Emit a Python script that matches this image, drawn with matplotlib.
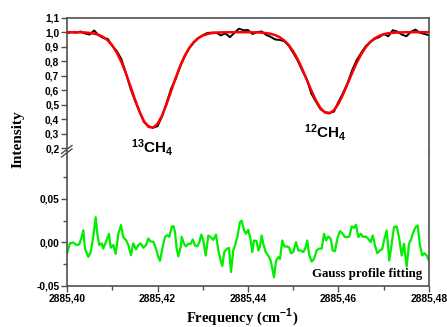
import matplotlib
matplotlib.use('Agg')
import matplotlib.pyplot as plt
import numpy as np

# ---------------- data ----------------
freq_start = 2885.400
freq_step = 0.001
# Gauss profile fit (red), one value per 0.001 cm-1 from 2885.400 to 2885.480
fit_values = [1.000, 1.000, 1.000, 0.999, 0.998, 0.995, 0.990, 0.982, 0.967, 0.944,
              0.909, 0.860, 0.796, 0.718, 0.630, 0.539, 0.455, 0.388, 0.348, 0.342,
              0.369, 0.425, 0.504, 0.593, 0.684, 0.767, 0.837, 0.891, 0.932, 0.959,
              0.977, 0.987, 0.994, 0.997, 0.999, 0.999, 1.000, 1.000, 1.000, 1.000,
              1.000, 0.999, 0.999, 0.997, 0.994, 0.989, 0.980, 0.966, 0.943, 0.912,
              0.868, 0.813, 0.746, 0.673, 0.599, 0.531, 0.478, 0.447, 0.441, 0.463,
              0.508, 0.571, 0.643, 0.718, 0.787, 0.847, 0.896, 0.932, 0.958, 0.975,
              0.986, 0.993, 0.996, 0.998, 0.999, 1.000, 1.000, 1.000, 1.000, 1.000,
              1.000]
# measured spectrum (black), same grid
measured_values = [0.994, 1.000, 0.997, 1.005, 0.991, 0.984, 1.012, 0.979, 0.960, 0.954,
                   0.906, 0.870, 0.816, 0.721, 0.615, 0.531, 0.454, 0.382, 0.353, 0.343,
                   0.352, 0.420, 0.513, 0.611, 0.677, 0.762, 0.832, 0.889, 0.928, 0.959,
                   0.979, 0.995, 0.997, 0.997, 0.978, 0.992, 0.966, 0.996, 1.024, 1.014,
                   1.015, 0.988, 1.001, 1.005, 0.982, 0.968, 0.950, 0.947, 0.938, 0.907,
                   0.857, 0.804, 0.735, 0.675, 0.577, 0.522, 0.471, 0.449, 0.445, 0.453,
                   0.521, 0.581, 0.650, 0.737, 0.807, 0.857, 0.903, 0.932, 0.954, 0.966,
                   0.988, 0.972, 1.014, 1.004, 0.984, 0.972, 1.003, 1.018, 0.996, 0.988,
                   0.979]
# residual (green): frequency offset from 2885.400 in units of 0.001 cm-1, and value
resid_offset_milli = [0.00, 0.66, 1.39, 2.14, 2.72, 3.25, 3.60, 3.98, 4.71, 5.24,
                      5.81, 6.34, 6.70, 7.14, 7.67, 8.02, 8.77, 9.28, 9.66, 10.23,
                      10.76, 11.34, 11.93, 12.44, 13.04, 13.55, 14.14, 14.65, 15.25, 15.76,
                      16.29, 16.86, 17.46, 17.97, 18.50, 19.07, 19.67, 20.18, 20.55, 21.15,
                      21.66, 22.17, 22.61, 23.14, 23.49, 23.87, 24.24, 24.60, 25.13, 25.35,
                      25.86, 26.30, 26.81, 27.34, 27.78, 28.29, 28.80, 29.24, 29.68, 30.12,
                      30.65, 31.23, 31.76, 32.33, 32.93, 33.44, 33.97, 34.32, 34.76, 35.29,
                      35.80, 36.24, 36.75, 37.13, 37.64, 38.23, 38.61, 39.12, 39.56, 40.07,
                      40.60, 40.95, 41.33, 41.92, 42.28, 42.65, 43.03, 43.38, 43.91, 44.49,
                      45.02, 45.37, 45.75, 46.19, 46.70, 47.07, 47.58, 48.02, 48.55, 49.06,
                      49.50, 50.01, 50.61, 51.12, 51.65, 52.22, 52.75, 53.10, 53.55, 54.08,
                      54.59, 55.18, 55.76, 56.29, 56.80, 57.24, 57.75, 58.28, 58.72, 59.23,
                      59.73, 60.33, 60.93, 61.44, 61.94, 62.39, 62.92, 63.43, 63.87, 64.38,
                      64.91, 65.48, 66.01, 66.59, 67.12, 67.56, 68.07, 68.57, 69.17, 69.68,
                      70.06, 70.65, 71.23, 71.76, 72.27, 72.86, 73.37, 73.97, 74.48, 75.07,
                      75.58, 76.02, 76.53, 77.06, 77.50, 78.01, 78.52, 78.96, 79.49, 80.00]
resid_values = [-0.0127, -0.0010, 0.0000, -0.0030, -0.0020, 0.0065, 0.0140, -0.0070, -0.0165, -0.0110,
                0.0065, 0.0290, 0.0100, -0.0030, -0.0010, -0.0070, 0.0030, 0.0100, -0.0060, -0.0030,
                -0.0130, 0.0100, 0.0200, 0.0060, 0.0027, -0.0030, -0.0146, -0.0010, -0.0080, -0.0030,
                -0.0010, -0.0060, -0.0030, 0.0046, 0.0010, 0.0010, -0.0070, -0.0165, -0.0210, -0.0050,
                0.0065, 0.0085, 0.0065, 0.0180, 0.0190, 0.0120, -0.0070, -0.0160, -0.0050, 0.0065,
                -0.0015, -0.0045, -0.0015, -0.0015, 0.0035, -0.0035, -0.0045, 0.0004, 0.0090, 0.0023,
                -0.0150, 0.0080, 0.0062, 0.0030, 0.0090, -0.0092, -0.0210, -0.0270, -0.0110, -0.0073,
                -0.0062, -0.0340, -0.0090, -0.0035, 0.0062, 0.0235, 0.0250, 0.0140, 0.0100, 0.0146,
                0.0023, -0.0110, 0.0023, 0.0015, -0.0092, -0.0046, 0.0080, -0.0015, -0.0110, -0.0150,
                -0.0210, -0.0300, -0.0400, -0.0210, -0.0170, -0.0190, 0.0023, -0.0046, -0.0046, -0.0054,
                -0.0123, -0.0110, 0.0004, -0.0092, -0.0092, -0.0110, -0.0054, 0.0023, -0.0150, -0.0220,
                -0.0190, -0.0090, -0.0070, -0.0070, 0.0100, 0.0023, 0.0069, 0.0042, -0.0092, -0.0100,
                0.0042, 0.0131, 0.0100, 0.0062, 0.0062, 0.0069, 0.0185, 0.0169, 0.0204, 0.0062,
                0.0100, 0.0062, 0.0069, 0.0042, 0.0004, 0.0081, -0.0035, -0.0123, -0.0092, -0.0073,
                0.0023, 0.0138, -0.0208, -0.0015, 0.0177, 0.0185, 0.0062, -0.0150, -0.0015, -0.0277,
                -0.0015, 0.0031, 0.0119, 0.0177, 0.0196, -0.0035, -0.0150, -0.0123, -0.0150, -0.0210]

x_ticks = [2885.40, 2885.42, 2885.44, 2885.46, 2885.48]
x_ticklabels = ['2885,40', '2885,42', '2885,44', '2885,46', '2885,48']
x_minor = [2885.41, 2885.43, 2885.45, 2885.47]
top_yticks = [0.2, 0.3, 0.4, 0.5, 0.6, 0.7, 0.8, 0.9, 1.0, 1.1]
top_yticklabels = ['0,2', '0,3', '0,4', '0,5', '0,6', '0,7', '0,8', '0,9', '1,0', '1,1']
bot_yticks = [-0.05, 0.00, 0.05]
bot_yticklabels = ['-0,05', '0,00', '0,05']
bot_yminor = [-0.025, 0.025, 0.075]

# ---------------- styling ----------------
plt.rcParams['mathtext.fontset'] = 'custom'
plt.rcParams['mathtext.rm'] = 'Liberation Serif:bold'
plt.rcParams['mathtext.sf'] = 'Liberation Sans:bold'
plt.rcParams['mathtext.bf'] = 'Liberation Sans:bold'

spine_c = '#505050'
tick_font = dict(family='Liberation Sans', weight='bold', size=7.4)

freq = freq_start + freq_step * np.arange(len(fit_values))
freq_resid = freq_start + np.array(resid_offset_milli) * 1e-3

fig = plt.figure(figsize=(4.47, 3.27), dpi=100)
ax_bot = fig.add_axes([0.1499, 0.1254, 0.8098, 0.4098])
ax_top = fig.add_axes([0.1499, 0.5352, 0.8098, 0.4107], sharex=ax_bot)
ax_top.set_facecolor('none')

ax_top.plot(freq, measured_values, color='black', lw=1.4, zorder=2)
ax_top.plot(freq, fit_values, color='#ff0000', lw=1.8, zorder=3)
ax_bot.plot(freq_resid, resid_values, color='#00ee00', lw=1.6)

ax_top.set_xlim(2885.40, 2885.48)
ax_top.set_ylim(0.175, 1.1)
ax_bot.set_ylim(-0.05, 0.104)

for ax in (ax_top, ax_bot):
    for s in ax.spines.values():
        s.set_color(spine_c)
        s.set_linewidth(1.2)
ax_top.spines['bottom'].set_visible(False)
ax_bot.spines['top'].set_visible(False)

ax_top.tick_params(axis='x', which='both', bottom=False, top=False, labelbottom=False)
ax_top.set_yticks(top_yticks)
ax_top.set_yticklabels(top_yticklabels, fontdict=tick_font)
ax_top.tick_params(axis='y', which='major', direction='out', length=4, width=1, color=spine_c, pad=1.5)

ax_bot.set_xticks(x_ticks)
ax_bot.set_xticklabels(x_ticklabels, fontdict=tick_font)
ax_bot.set_xticks(x_minor, minor=True)
ax_bot.set_yticks(bot_yticks)
ax_bot.set_yticklabels(bot_yticklabels, fontdict=tick_font)
ax_bot.set_yticks(bot_yminor, minor=True)
ax_bot.tick_params(axis='both', which='major', direction='out', length=4, width=1, color=spine_c, pad=1.5)
ax_bot.tick_params(axis='both', which='minor', direction='out', length=3, width=1, color=spine_c)

# axis break marks on the left spine
inch = fig.dpi_scale_trans
def px(xp, yp):
    return (xp / 100.0, (327 - yp) / 100.0)
for dy in (0, -3.5):
    (x0, y0), (x1, y1) = px(61.5, 157 + dy), px(72, 149 + dy)
    fig.add_artist(plt.Line2D([x0, x1], [y0, y1], transform=inch, color=spine_c, lw=1.0))

# labels
ax_top.text(2885.4189, 0.170, r'$\mathsf{^{13}CH_4}$', ha='center', va='baseline', fontsize=11,
            clip_on=False, zorder=5)
ax_top.text(2885.4571, 0.272, r'$\mathsf{^{12}CH_4}$', ha='center', va='baseline', fontsize=11)
ax_bot.text(2885.4785, -0.036, 'Gauss profile fitting', ha='right', va='center',
            fontsize=9.3, family='Liberation Serif', weight='bold')

fig.text(18 / 447, 1 - 139.5 / 327, 'Intensity', rotation=90, ha='center', va='center',
         fontsize=11, family='Liberation Serif', weight='bold')
fig.text(242 / 447, 1 - 317 / 327, r'Frequency (cm$^{\mathsf{-1}}$)', ha='center', va='center',
         fontsize=10.5, family='Liberation Serif', weight='bold')

fig.savefig('out.png', dpi=100)
